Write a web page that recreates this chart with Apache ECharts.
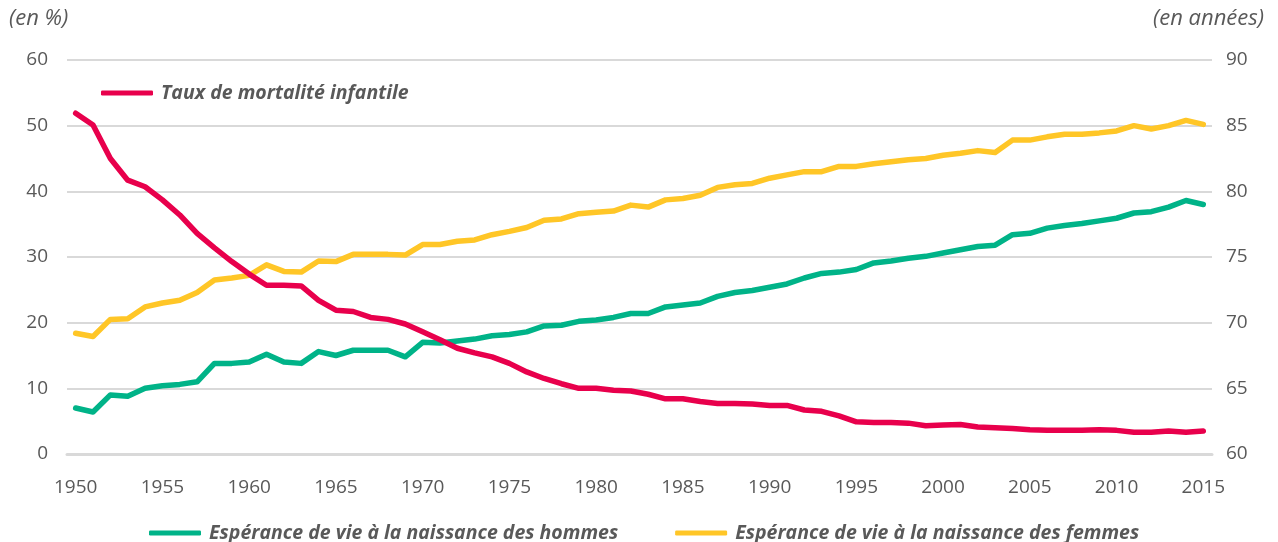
<!DOCTYPE html>
<html>
<head>
<meta charset="utf-8">
<script src="https://cdn.jsdelivr.net/npm/echarts@6/dist/echarts.min.js"></script>
<style>
  html, body { margin: 0; padding: 0; background: #fff; }
  #chart { width: 1278px; height: 542px; }
</style>
</head>
<body>
<div id="chart"></div>
<script>
const years = [];
for (let y = 1950; y <= 2015; y++) years.push(String(y));

// Taux de mortalité infantile (en %)
const mortalite = [
  51.9, 50.1, 45.0, 41.7, 40.7, 38.7, 36.4, 33.6, 31.4, 29.3,
  27.4, 25.7, 25.7, 25.6, 23.4, 21.9, 21.7, 20.8, 20.5, 19.8,
  18.6, 17.4, 16.1, 15.4, 14.8, 13.8, 12.5, 11.5, 10.7, 10.0,
  10.0, 9.7, 9.6, 9.1, 8.4, 8.4, 8.0, 7.7, 7.7, 7.6,
  7.4, 7.4, 6.7, 6.5, 5.8, 4.9, 4.8, 4.8, 4.7, 4.3,
  4.4, 4.5, 4.1, 4.0, 3.9, 3.7, 3.6, 3.6, 3.6, 3.7,
  3.6, 3.3, 3.3, 3.5, 3.3, 3.5
];

// Espérance de vie à la naissance (en années)
const hommes = [
  63.5, 63.2, 64.5, 64.4, 65.0, 65.2, 65.3, 65.5, 66.9, 66.9,
  67.0, 67.6, 67.0, 66.9, 67.8, 67.5, 67.9, 67.9, 67.9, 67.4,
  68.5, 68.45, 68.6, 68.75, 69.0, 69.1, 69.3, 69.75, 69.8, 70.1,
  70.2, 70.4, 70.7, 70.7, 71.2, 71.35, 71.5, 72.0, 72.3, 72.45,
  72.7, 72.95, 73.4, 73.75, 73.85, 74.05, 74.55, 74.7, 74.9, 75.05,
  75.3, 75.55, 75.8, 75.9, 76.7, 76.8, 77.2, 77.4, 77.55, 77.75,
  77.95, 78.35, 78.45, 78.8, 79.3, 79.0
];
const femmes = [
  69.2, 68.95, 70.25, 70.3, 71.2, 71.5, 71.7, 72.3, 73.25, 73.4,
  73.6, 74.4, 73.9, 73.85, 74.7, 74.65, 75.2, 75.2, 75.2, 75.15,
  75.95, 75.95, 76.2, 76.3, 76.7, 76.95, 77.25, 77.8, 77.9, 78.3,
  78.4, 78.5, 78.95, 78.8, 79.35, 79.45, 79.7, 80.3, 80.5, 80.6,
  81.0, 81.25, 81.5, 81.5, 81.9, 81.9, 82.1, 82.25, 82.4, 82.5,
  82.75, 82.9, 83.1, 82.95, 83.9, 83.9, 84.15, 84.35, 84.35, 84.45,
  84.6, 85.0, 84.75, 85.0, 85.4, 85.1
];

const NAME_MORT = 'Taux de mortalité infantile';
const NAME_H = 'Espérance de vie à la naissance des hommes';
const NAME_F = 'Espérance de vie à la naissance des femmes';

const red = '#E8004C';
const green = '#00B388';
const yellow = '#FFC627';
const textColor = '#595959';
const gridColor = '#D9D9D9';
const font = '"Open Sans", sans-serif';

const legendText = {
  color: textColor, fontFamily: font, fontSize: 19.5,
  fontStyle: 'italic', fontWeight: 'bold', padding: [0, 0, 0, 3]
};
const unitText = {
  color: textColor, fontFamily: font, fontSize: 22,
  fontStyle: 'italic', fontWeight: 'normal'
};

const chart = echarts.init(document.getElementById('chart'));
chart.setOption({
  animation: false,
  backgroundColor: '#fff',
  title: [
    { text: '(en %)', left: 4, top: 3, textStyle: unitText },
    { text: '(en années)', right: 9, top: 3, textStyle: unitText }
  ],
  legend: [
    {
      data: [NAME_MORT],
      left: 96, top: 78,
      itemWidth: 52, itemHeight: 5, icon: 'roundRect',
      textStyle: legendText
    },
    {
      data: [NAME_H, NAME_F],
      left: 144, top: 518,
      itemGap: 57,
      itemWidth: 52, itemHeight: 5, icon: 'roundRect',
      textStyle: legendText
    }
  ],
  grid: { left: 67, right: 66, top: 60, bottom: 88, containLabel: false },
  xAxis: {
    type: 'category',
    data: years,
    boundaryGap: true,
    axisLine: { lineStyle: { color: gridColor, width: 3 } },
    axisTick: { show: false },
    axisLabel: { interval: 4, color: textColor, fontFamily: font, fontSize: 19, margin: 24 }
  },
  yAxis: [
    {
      type: 'value', min: 0, max: 60, interval: 10,
      axisLine: { show: false }, axisTick: { show: false },
      axisLabel: { color: textColor, fontFamily: font, fontSize: 19, margin: 19 },
      splitLine: { lineStyle: { color: gridColor, width: 2 } }
    },
    {
      type: 'value', min: 60, max: 90, interval: 5,
      axisLine: { show: false }, axisTick: { show: false },
      axisLabel: { color: textColor, fontFamily: font, fontSize: 19, margin: 14 },
      splitLine: { show: false }
    }
  ],
  series: [
    {
      name: NAME_H, type: 'line', yAxisIndex: 1, data: hommes,
      showSymbol: false, color: green,
      lineStyle: { width: 5.5, color: green, cap: 'round', join: 'round' }
    },
    {
      name: NAME_F, type: 'line', yAxisIndex: 1, data: femmes,
      showSymbol: false, color: yellow,
      lineStyle: { width: 5.5, color: yellow, cap: 'round', join: 'round' }
    },
    {
      name: NAME_MORT, type: 'line', yAxisIndex: 0, data: mortalite,
      showSymbol: false, color: red,
      lineStyle: { width: 5.5, color: red, cap: 'round', join: 'round' }
    }
  ]
});
</script>
</body>
</html>
